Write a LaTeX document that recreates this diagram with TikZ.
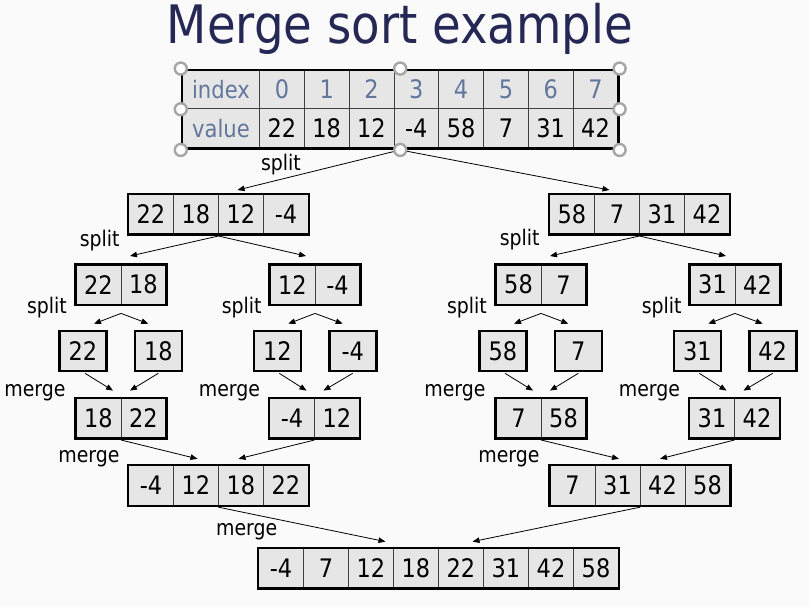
\documentclass[tikz,border=0pt]{standalone}
\usepackage{fontspec}
\setmainfont{DejaVu Sans}[FakeStretch=0.88]
\usetikzlibrary{arrows.meta, calc, fit}

\definecolor{titleblue}{RGB}{37,40,85}
\definecolor{idxblue}{RGB}{98,118,156}
\definecolor{cellgray}{RGB}{230,230,230}
\definecolor{paper}{RGB}{250,250,250}

\tikzset{
  cell/.style={draw=black!75, line width=0.8pt, fill=cellgray, minimum width=45pt, minimum height=40pt, inner sep=0pt, font=\fontsize{25.5}{30}\selectfont},
  frame/.style={draw=black, line width=2.6pt, inner sep=0pt},
  single/.style={cell, frame, minimum width=47pt},
  lbl/.style={anchor=base, inner sep=0pt, font=\fontsize{21.5}{25}\selectfont},
  handle/.style={circle, draw=black!35, line width=2.4pt, fill=white, minimum size=12pt, inner sep=0pt},
  conn/.style={->, line width=0.8pt},
}

% row of cells: name, left edge, middle, values
\newcommand{\cellrow}[4]{%
  \foreach \v [count=\k] in {#4}
    \node[cell] (#1-\k) at ({#2+45*\k-22.5}, #3) {\v};
}

\begin{document}
\begin{tikzpicture}[x=1pt, y=-1pt, >={Triangle[length=7pt, width=5.5pt]}]
  \fill[paper] (0,0) rectangle (809,606);
  \useasboundingbox (0,0) rectangle (809,606);

  \node[anchor=base, inner sep=0pt, text=titleblue, font=\fontsize{53}{60}\selectfont] (title) at (400,43.3) {Merge sort example};

  % index / value table
  \node[cell, minimum width=77pt, minimum height=38.5pt, text=idxblue, font=\fontsize{24}{28}\selectfont] (idx) at (221,89.5) {index};
  \node[cell, minimum width=77pt, minimum height=39.5pt, text=idxblue, font=\fontsize{24}{28}\selectfont] (val) at (221,128.5) {value};
  \foreach \v [count=\k, evaluate=\k as \i using int(\k-1)] in {22,18,12,-4,58,7,31,42} {
    \node[cell, minimum width=44.8pt, minimum height=38.5pt, text=idxblue] (idx-\k) at ({259.5+44.8*\k-22.4},89.5) {\i};
    \node[cell, minimum width=44.8pt, minimum height=39.5pt] (val-\k) at ({259.5+44.8*\k-22.4},128.5) {\v};
  }
  \node[frame, fit=(idx)(val-8)] (tbl) {};

  % split
  \cellrow{lv1l}{128.5}{214.3}{22,18,12,-4}
  \node[frame, fit=(lv1l-1)(lv1l-4)] (lv1l) {};
  \cellrow{lv1r}{549.5}{214.3}{58,7,31,42}
  \node[frame, fit=(lv1r-1)(lv1r-4)] (lv1r) {};

  \cellrow{lv2a}{76}{284.7}{22,18}
  \node[frame, fit=(lv2a-1)(lv2a-2)] (lv2a) {};
  \cellrow{lv2b}{270}{284.7}{12,-4}
  \node[frame, fit=(lv2b-1)(lv2b-2)] (lv2b) {};
  \cellrow{lv2c}{496}{284.7}{58,7}
  \node[frame, fit=(lv2c-1)(lv2c-2)] (lv2c) {};
  \cellrow{lv2d}{690}{284.7}{31,42}
  \node[frame, fit=(lv2d-1)(lv2d-2)] (lv2d) {};

  \foreach \v/\x [count=\k] in {22/83, 18/158.3, 12/277.3, -4/352.7, 58/503, 7/578.3, 31/697.3, 42/772.7}
    \node[single] (sg\k) at (\x,351) {\v};

  % merge
  \cellrow{lv4a}{76}{418.3}{18,22}
  \node[frame, fit=(lv4a-1)(lv4a-2)] (lv4a) {};
  \cellrow{lv4b}{269.5}{418.3}{-4,12}
  \node[frame, fit=(lv4b-1)(lv4b-2)] (lv4b) {};
  \cellrow{lv4c}{496}{418.3}{7,58}
  \node[frame, fit=(lv4c-1)(lv4c-2)] (lv4c) {};
  \cellrow{lv4d}{689.5}{418.3}{31,42}
  \node[frame, fit=(lv4d-1)(lv4d-2)] (lv4d) {};

  \cellrow{lv5l}{128.5}{485.5}{-4,12,18,22}
  \node[frame, fit=(lv5l-1)(lv5l-4)] (lv5l) {};
  \cellrow{lv5r}{550}{485.5}{7,31,42,58}
  \node[frame, fit=(lv5r-1)(lv5r-4)] (lv5r) {};

  \cellrow{lv6}{258.5}{568.3}{-4,7,12,18,22,31,42,58}
  \node[frame, fit=(lv6-1)(lv6-8)] (lv6) {};

  % labels
  \foreach \x/\y [count=\k] in {281/170, 99.7/246, 47/313.3, 241.7/313.3, 519.7/245.7, 467/313.3, 661.7/313.3}
    \node[lbl] (split\k) at (\x,\y) {split};
  \foreach \x/\y [count=\k] in {35/396, 229.5/396, 455/396, 649.5/396, 89/462.3, 509/462.3, 246.7/535}
    \node[lbl] (merge\k) at (\x,\y) {merge};

  % arrows
  \draw[conn] (tbl.south) -- ($(lv1l.north)+(19,-2.6)$);
  \draw[conn] (tbl.south) -- ($(lv1r.north)+(-30,-2.6)$);
  \draw[conn] (lv1l.south) -- ($(lv2a.north)+(9,-7)$);
  \draw[conn] (lv1l.south) -- ($(lv2b.north)+(-9,-7)$);
  \draw[conn] (lv1r.south) -- ($(lv2c.north)+(9,-7)$);
  \draw[conn] (lv1r.south) -- ($(lv2d.north)+(-9,-7)$);
  \foreach \p/\a/\b in {lv2a/1/2, lv2b/3/4, lv2c/5/6, lv2d/7/8} {
    \draw[conn] ($(\p.south)+(0,7)$) -- ($(sg\a.north)+(11,-6)$);
    \draw[conn] ($(\p.south)+(0,7)$) -- ($(sg\b.north)+(-10,-6)$);
  }
  \foreach \a/\b/\q in {1/2/lv4a, 3/4/lv4b, 5/6/lv4c, 7/8/lv4d} {
    \draw[conn] ($(sg\a.south)+(2,1)$) -- ($(\q.north)+(-8,-6)$);
    \draw[conn] ($(sg\b.south)+(0,1)$) -- ($(\q.north)+(9,-6)$);
  }
  \draw[conn] (lv4a.south) -- ($(lv5l.north)+(-21,-5)$);
  \draw[conn] (lv4b.south) -- ($(lv5l.north)+(20,-5)$);
  \draw[conn] (lv4c.south) -- ($(lv5r.north)+(-21,-5)$);
  \draw[conn] (lv4d.south) -- ($(lv5r.north)+(20,-5)$);
  \draw[conn] (lv5l.south) -- ($(lv6.north)+(-53,-5)$);
  \draw[conn] (lv5r.south) -- ($(lv6.north)+(34,-5)$);

  % selection handles
  \foreach \a [count=\j] in {north west, north, north east, west, east, south west, south, south east}
    \node[handle] (h\j) at (tbl.\a) {};
\end{tikzpicture}
\end{document}
